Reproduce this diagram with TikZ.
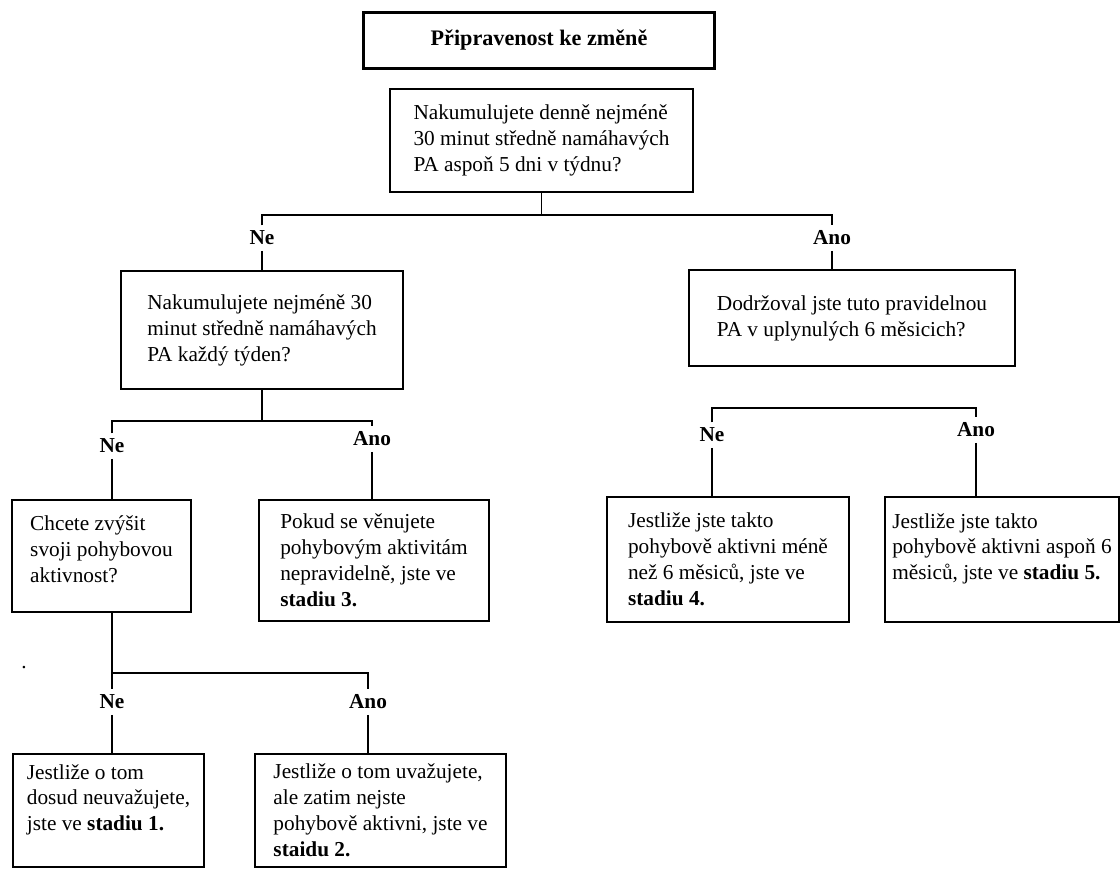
\documentclass[tikz,border=0pt]{standalone}
\usepackage{fontspec}
\setmainfont{Liberation Serif}

\begin{document}
\begin{tikzpicture}[x=0.5637pt,y=-0.5637pt,
  font=\fontsize{12}{14.6}\selectfont,
  box/.style={draw,line width=0.8pt,align=left,inner sep=0pt},
  ans/.style={font=\fontsize{12}{14.6}\selectfont\bfseries,inner xsep=1pt,inner ysep=3pt},
  link/.style={line width=0.8pt}]
 \useasboundingbox (0,0) rectangle (1120,868);
 \node[draw,line width=1.7pt,minimum width=198.4pt,minimum height=32.1pt,font=\fontsize{12.5}{15}\selectfont\bfseries] (title) at (539,40.5) {Připravenost ke změně};
 \node[box,minimum width=170.8pt,minimum height=58.1pt] (q1) at (541.5,140.5) {Nakumulujete denně nejméně\\30 minut středně namáhavých\\PA aspoň 5 dni v týdnu?};
 \node[box,minimum width=159pt,minimum height=66.5pt] (q2) at (262,330) {Nakumulujete nejméně 30\\minut středně namáhavých\\PA každý týden?};
 \node[box,minimum width=183.8pt,minimum height=54.1pt] (q3) at (852,318) {Dodržoval jste tuto pravidelnou\\PA v uplynulých 6 měsicich?};
 \node[box,minimum width=100.9pt,minimum height=63.1pt] (ch) at (101.5,556) {Chcete zvýšit\\svoji pohybovou\\aktivnost?\\[-6.7pt]\mbox{}};
 \node[box,minimum width=129.7pt,minimum height=68.2pt] (pk) at (374,560.5) {Pokud se věnujete\\pohybovým aktivitám\\nepravidelně, jste ve\\\textbf{stadiu 3.}};
 \node[box,minimum width=107.7pt,minimum height=63.7pt] (s1) at (108.5,810.5) {Jestliže o tom\\dosud neuvažujete,\\jste ve \textbf{stadiu 1.}\\\mbox{}};
 \node[box,minimum width=141.5pt,minimum height=63.7pt] (s2) at (380.5,810.5) {Jestliže o tom uvažujete,\\ale zatim nejste\\pohybově aktivni, jste ve\\\textbf{staidu 2.}};
 \node[box,minimum width=136.4pt,minimum height=70.5pt] (s4) at (728,559.5) {Jestliže jste takto\\pohybově aktivni méně\\než 6 měsiců, jste ve\\\textbf{stadiu 4.}};
 \node[box,minimum width=131.9pt,minimum height=70.5pt] (s5) at (1002,559.5) {Jestliže jste takto\\pohybově aktivni aspoň 6\\měsiců, jste ve \textbf{stadiu 5.}\\\mbox{}};
 \node[ans] (ne1) at (262,238) {Ne};
 \node[ans] (ano1) at (832,238) {Ano};
 \node[ans] (ne2) at (112,446) {Ne};
 \node[ans] (ano2) at (372,439) {Ano};
 \node[ans] (ne3) at (112,702) {Ne};
 \node[ans] (ano3) at (368,702) {Ano};
 \node[ans] (ne4) at (712,435) {Ne};
 \node[ans] (ano4) at (976,430) {Ano};
 \node[inner sep=0pt] (dot) at (24,668) {.};
 \coordinate (j1) at (541.5,215);
 \coordinate (j2) at (262,421);
 \coordinate (j3) at (112,673);
 \coordinate (j4) at (844,408);
  \draw[link] (q1) -- (j1);
  \draw[link] (ne1) |- (j1) -| (ano1);
  \draw[link] (ne1) -- (q2);
  \draw[link] (ano1) -- (ano1 |- q3.north);
  \draw[link] (q2) -- (j2);
  \draw[link] (ne2) |- (j2) -| (ano2);
  \draw[link] (ne2) -- (ne2 |- ch.north);
  \draw[link] (ano2) -- (ano2 |- pk.north);
  \draw[link] (j3 |- ch.south) -- (ne3);
  \draw[link] (j3) -| (ano3);
  \draw[link] (ne3) -- (ne3 |- s1.north);
  \draw[link] (ano3) -- (ano3 |- s2.north);
  \draw[link] (ne4) |- (j4) -| (ano4);
  \draw[link] (ne4) -- (ne4 |- s4.north);
  \draw[link] (ano4) -- (ano4 |- s5.north);
\end{tikzpicture}
\end{document}
